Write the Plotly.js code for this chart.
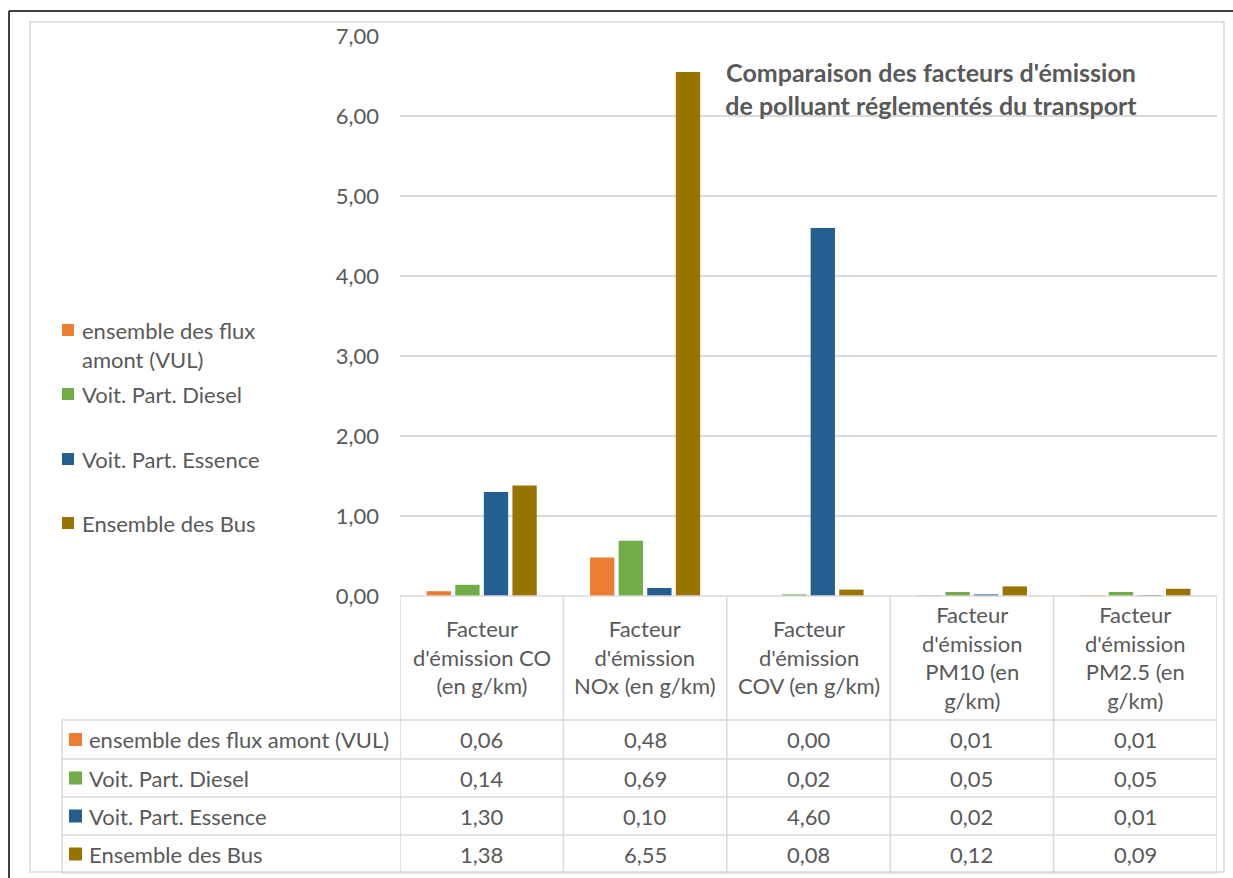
<!DOCTYPE html>
<html>
<head>
<meta charset="utf-8">
<script src="https://cdn.plot.ly/plotly-3.0.1.min.js"></script>
<style>html,body{margin:0;padding:0;background:#fff;}#chart{width:1233px;height:878px;}</style>
</head>
<body>
<div id="chart"></div>
<script>
// ---- data ----
const categories = [
  "Facteur d'émission CO (en g/km)",
  "Facteur d'émission NOx (en g/km)",
  "Facteur d'émission COV (en g/km)",
  "Facteur d'émission PM10 (en g/km)",
  "Facteur d'émission PM2.5 (en g/km)"
];
const categoryLabels = [
  "Facteur<br>d'émission CO<br>(en g/km)",
  "Facteur<br>d'émission<br>NOx (en g/km)",
  "Facteur<br>d'émission<br>COV (en g/km)",
  "Facteur<br>d'émission<br>PM10 (en<br>g/km)",
  "Facteur<br>d'émission<br>PM2.5 (en<br>g/km)"
];
const seriesNames = [
  "ensemble des flux amont (VUL)",
  "Voit. Part. Diesel",
  "Voit. Part. Essence",
  "Ensemble des Bus"
];
const legendLabels = [
  "ensemble des flux<br>amont (VUL)",
  "Voit. Part. Diesel",
  "Voit. Part. Essence",
  "Ensemble des Bus"
];
const fluxAmontVUL = [0.06, 0.48, 0.00, 0.01, 0.01];
const voitDiesel   = [0.14, 0.69, 0.02, 0.05, 0.05];
const voitEssence  = [1.30, 0.10, 4.60, 0.02, 0.01];
const ensembleBus  = [1.38, 6.55, 0.08, 0.12, 0.09];
const seriesValues = [fluxAmontVUL, voitDiesel, voitEssence, ensembleBus];
const seriesColors = ["#ED7D31", "#70AD47", "#255E91", "#997300"];
const titleText = "Comparaison des facteurs d'émission<br>de polluant réglementés du transport";

// ---- layout helpers (pixel -> paper) ----
const W = 1233, H = 878;
const px = v => v / W;
const py = v => 1 - v / H;
const FONT = "Lato, 'Open Sans', sans-serif";
const TXT = "#595959";
const GRID = "#d9d9d9";
const FS = 22;

const traces = seriesNames.map((n, s) => ({
  type: "bar",
  name: n,
  x: categories,
  y: seriesValues[s],
  marker: {color: seriesColors[s]},
  hoverinfo: "skip",
  showlegend: false
}));

const shapes = [];
const annotations = [];

// outer frame
shapes.push({type: "line", xref: "paper", yref: "paper", x0: px(9), x1: px(1233), y0: py(11), y1: py(11), line: {color: "#000", width: 1.5}});
shapes.push({type: "line", xref: "paper", yref: "paper", x0: px(9), x1: px(9), y0: py(11), y1: py(878), line: {color: "#000", width: 1.5}});
shapes.push({type: "rect", xref: "paper", yref: "paper", x0: px(30), x1: px(1224), y0: py(22), y1: py(872), line: {color: GRID, width: 1.5}});

// table
const rowLines = [720, 759, 797, 835, 873];
rowLines.forEach(r => shapes.push({type: "line", xref: "paper", yref: "paper", x0: px(62), x1: px(1217), y0: py(r), y1: py(r), line: {color: GRID, width: 1.5}}));
shapes.push({type: "line", xref: "paper", yref: "paper", x0: px(62), x1: px(62), y0: py(720), y1: py(873), line: {color: GRID, width: 1.5}});
for (let i = 0; i <= categories.length; i++) {
  shapes.push({type: "line", xref: "x", yref: "paper", x0: i - 0.5, x1: i - 0.5, y0: py(596), y1: py(873), line: {color: GRID, width: 1.5}});
}
shapes.push({type: "line", xref: "paper", yref: "paper", x0: px(400), x1: px(1217), y0: py(596), y1: py(596), line: {color: GRID, width: 1.5}});

// category header labels
categoryLabels.forEach((lab, i) => annotations.push({
  xref: "x", yref: "paper", x: categories[i], y: py(657), text: lab, showarrow: false,
  xanchor: "center", yanchor: "middle", align: "center", font: {family: FONT, size: FS, color: TXT}
}));

const fmt = v => v.toFixed(2).replace(".", ",");
const rowCenters = [739.5, 778, 816, 854];
seriesNames.forEach((n, s) => {
  const yc = rowCenters[s];
  shapes.push({type: "rect", xref: "paper", yref: "paper", x0: px(69), x1: px(82), y0: py(yc - 6.5), y1: py(yc + 6.5), fillcolor: seriesColors[s], line: {width: 0}});
  annotations.push({xref: "paper", yref: "paper", x: px(87), y: py(yc), text: n, showarrow: false,
    xanchor: "left", yanchor: "middle", font: {family: FONT, size: FS, color: TXT}});
  seriesValues[s].forEach((v, i) => annotations.push({
    xref: "x", yref: "paper", x: categories[i], y: py(yc), text: fmt(v), showarrow: false,
    xanchor: "center", yanchor: "middle", font: {family: FONT, size: FS, color: TXT}
  }));
});

// legend (left)
const legendY = [330, 394, 459, 523];
const legendTextY = [345, 394, 459, 523];
legendLabels.forEach((lab, s) => {
  const yc = legendY[s];
  shapes.push({type: "rect", xref: "paper", yref: "paper", x0: px(62), x1: px(74), y0: py(yc - 6), y1: py(yc + 6), fillcolor: seriesColors[s], line: {width: 0}});
  annotations.push({xref: "paper", yref: "paper", x: px(80), y: py(legendTextY[s]), text: lab, showarrow: false,
    xanchor: "left", yanchor: "middle", align: "left", font: {family: FONT, size: FS, color: TXT}});
});

const layout = {
  width: W, height: H,
  margin: {l: 0, r: 0, t: 0, b: 0, pad: 0},
  paper_bgcolor: "#fff", plot_bgcolor: "#fff",
  separators: ", ",
  barmode: "group",
  bargap: 0.3,
  bargroupgap: 0.15,
  title: {text: titleText, x: px(931), xanchor: "center", y: py(82), yanchor: "middle",
    font: {family: FONT, size: 25, color: TXT, weight: "bold"}},
  xaxis: {domain: [px(400), px(1217)], type: "category", range: [-0.5, 4.5], showticklabels: false,
    showgrid: false, zeroline: false, showline: false, fixedrange: true},
  yaxis: {domain: [py(596), py(36)], range: [0, 7], dtick: 1, tickformat: ".2f",
    showgrid: true, gridcolor: GRID, gridwidth: 1.5, zeroline: false, showline: false,
    ticklabelstandoff: 20, tickfont: {family: FONT, size: FS, color: TXT}, fixedrange: true},
  showlegend: false,
  shapes: shapes,
  annotations: annotations
};

Plotly.newPlot("chart", traces, layout, {displayModeBar: false, staticPlot: true});
</script>
</body>
</html>
